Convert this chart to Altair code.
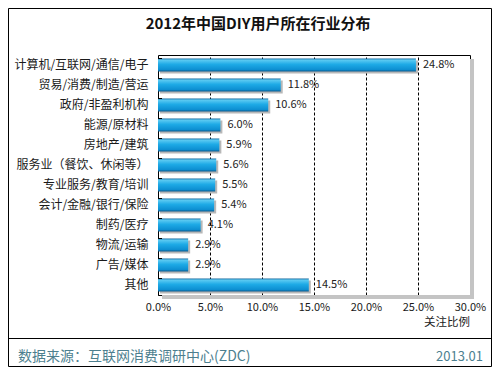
import altair as alt
import pandas as pd

categories = ["计算机/互联网/通信/电子", "贸易/消费/制造/营运", "政府/非盈利机构", "能源/原材料",
              "房地产/建筑", "服务业（餐饮、休闲等）", "专业服务/教育/培训", "会计/金融/银行/保险",
              "制药/医疗", "物流/运输", "广告/媒体", "其他"]
values = [24.8, 11.8, 10.6, 6.0, 5.9, 5.6, 5.5, 5.4, 4.1, 2.9, 2.9, 14.5]
x_ticks = [0, 5, 10, 15, 20, 25, 30]
title_text = "2012年中国DIY用户所在行业分布"
x_title = "关注比例"
source_text = "数据来源：互联网消费调研中心(ZDC)"
date_text = "2013.01"

df = pd.DataFrame({"cat": categories, "val": values,
                   "label": [f"{v:.1f}%" for v in values]})
one = pd.DataFrame({"a": [0]})

FONT = "Noto Sans CJK SC"
W, H = 312, 240
PL, PT, PR, PB = 150, 47, 22, 72

ysc = alt.Scale(domain=categories, paddingInner=0.35, paddingOuter=0.175)
xsc = alt.Scale(domain=[0, 30], nice=False)

y_axis = alt.Axis(title=None, ticks=False, domain=False, labelPadding=10, labelFontSize=12,
                  labelColor="#1a1a1a", labelFont=FONT, labelLimit=220)
x_axis = alt.Axis(values=x_ticks, title=None, ticks=False, domain=False, grid=True,
                  gridColor="#000", gridDash=[3, 2], gridWidth=1, labelFlush=False,
                  labelExpr="format(datum.value, '.1f') + '%'", labelFontSize=11,
                  labelPadding=6, labelColor="#1a1a1a", labelFont=FONT)

y_enc = alt.Y("cat:N", sort=categories, scale=ysc, axis=y_axis)
x_enc = alt.X("val:Q", scale=xsc, axis=x_axis)

grad = {"gradient": "linear", "x1": 0, "y1": 0, "x2": 0, "y2": 1,
        "stops": [{"offset": 0, "color": "#15699e"},
                  {"offset": 0.12, "color": "#5ccaf2"},
                  {"offset": 0.45, "color": "#1eaae6"},
                  {"offset": 0.85, "color": "#0d8fd2"},
                  {"offset": 1, "color": "#0a5b8f"}]}

base = alt.Chart(df)

shadow = base.mark_bar(color="#b8b8b8", xOffset=2, yOffset=2).encode(x=x_enc, y=y_enc)
bars = base.mark_bar(color=grad).encode(x=x_enc, y=y_enc)
labels = base.mark_text(align="left", dx=7, fontSize=11, color="#222", font=FONT).encode(
    x=x_enc, y=y_enc, text="label:N")
ticks = base.mark_rule(color="#000").encode(
    y=alt.Y("cat:N", sort=categories, scale=ysc, bandPosition=0, axis=y_axis),
    x=alt.value(0), x2=alt.value(4))

ann = alt.Chart(one)
plot_sh_r = ann.mark_rect(color="#c4c4c4").encode(
    x=alt.value(W), x2=alt.value(W + 4), y=alt.value(4), y2=alt.value(H + 4))
plot_sh_b = ann.mark_rect(color="#c4c4c4").encode(
    x=alt.value(4), x2=alt.value(W + 4), y=alt.value(H), y2=alt.value(H + 4))
title = ann.mark_text(fontSize=15, fontWeight="bold", font=FONT, color="#111").encode(
    x=alt.value(100), y=alt.value(-31), text=alt.value(title_text))
xt = ann.mark_text(fontSize=11.5, font=FONT, color="#222", align="right").encode(
    x=alt.value(W), y=alt.value(268), text=alt.value(x_title))
line = ann.mark_rule(color="#000", strokeWidth=1).encode(
    x=alt.value(-PL), x2=alt.value(W + PR), y=alt.value(283.5))
src = ann.mark_text(fontSize=14, font=FONT, color="#4d7f8f", align="left").encode(
    x=alt.value(-140), y=alt.value(302), text=alt.value(source_text))
date = ann.mark_text(fontSize=13, font=FONT, color="#4d7f8f", align="right").encode(
    x=alt.value(325), y=alt.value(302), text=alt.value(date_text))
border = ann.mark_rect(fill=None, stroke="#000", strokeWidth=1).encode(
    x=alt.value(-PL + 0.5), x2=alt.value(W + PR - 0.5),
    y=alt.value(-PT + 0.5), y2=alt.value(H + PB - 0.5))

chart = alt.layer(plot_sh_r, plot_sh_b, shadow, bars, labels, ticks, title, xt, line, src, date,
                  border).properties(
    width=W, height=H,
    autosize=alt.AutoSizeParams(type="none"),
    padding={"left": PL, "top": PT, "right": PR, "bottom": PB},
    background="white",
).configure_view(stroke="#000", strokeWidth=1)

chart.save("out.html", embed_options={"renderer": "svg", "actions": False})
